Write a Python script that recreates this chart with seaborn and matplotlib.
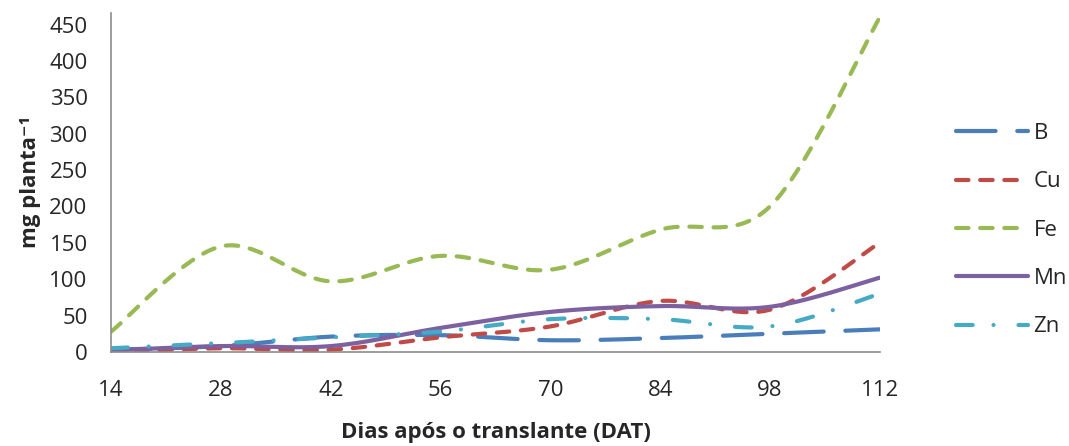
import numpy as np
import pandas as pd
import seaborn as sns
import matplotlib.pyplot as plt

dias = [14, 28, 42, 56, 70, 84, 98, 112]
b = [3, 8, 21, 23, 16, 19, 25, 31]
cu = [0, 5, 3, 20, 35, 70, 58, 150]
fe = [28, 145, 97, 132, 113, 168, 200, 460]
mn = [2, 8, 8, 33, 55, 63, 62, 102]
zn = [5, 12, 20, 28, 45, 45, 35, 80]

series = ["B", "Cu", "Fe", "Mn", "Zn"]
valores = [b, cu, fe, mn, zn]
cores = ["#4A7EBB", "#BE4B48", "#98B954", "#7D60A0", "#46AAC5"]
tracos = [(9.5, 5.2), (3.0, 2.8), (3.0, 2.8), None, (4.0, 5.0, 0.01, 6.0)]


def suaviza(x, y, n=40):
  # catmull-rom, parecido com a linha suavizada do Excel
  x = np.asarray(x, float)
  y = np.asarray(y, float)
  px = np.concatenate([[x[0]], x, [x[-1]]])
  py = np.concatenate([[y[0]], y, [y[-1]]])
  xs, ys = [], []
  for i in range(1, len(px) - 2):
    t = np.linspace(0, 1, n, endpoint=False)
    for p, out in ((px, xs), (py, ys)):
      p0, p1, p2, p3 = p[i - 1], p[i], p[i + 1], p[i + 2]
      out.extend(0.5 * ((2 * p1) + (-p0 + p2) * t
                        + (2 * p0 - 5 * p1 + 4 * p2 - p3) * t ** 2
                        + (-p0 + 3 * p1 - 3 * p2 + p3) * t ** 3))
  xs.append(x[-1])
  ys.append(y[-1])
  return np.array(xs), np.array(ys)


sns.set_theme(style="white")
plt.rcParams["font.family"] = ["Open Sans", "DejaVu Sans"]

fig = plt.figure(figsize=(10.69, 4.46), dpi=100)
ax = fig.add_axes([0.104, 0.211, 0.719, 0.760])

for nome, v, cor, tr in zip(series, valores, cores, tracos):
  xs, ys = suaviza(dias, v)
  df = pd.DataFrame({"dia": xs, "valor": ys})
  sns.lineplot(data=df, x="dia", y="valor", ax=ax, color=cor, linewidth=3,
               label=nome, sort=False, estimator=None)
  ln = ax.lines[-1]
  ln.set_solid_capstyle("round")
  ln.set_dash_capstyle("round")
  if tr is not None:
    ln.set_dashes(tr)

ax.set_xlim(14, 112)
ax.set_ylim(0, 466)
ax.set_xticks(dias)
ax.set_yticks(range(0, 451, 50))
ax.tick_params(axis="both", labelsize=16, length=0)
ax.tick_params(axis="y", pad=17)
ax.tick_params(axis="x", pad=20)
for s in ["top", "right"]:
  ax.spines[s].set_visible(False)
for s in ["left", "bottom"]:
  ax.spines[s].set_color("#8c8c8c")
  ax.spines[s].set_linewidth(1.2)

ax.set_xlabel("Dias após o translante (DAT)", fontsize=16, fontweight="bold", labelpad=15)
ax.set_ylabel("mg planta\u207b\u00b9", fontsize=16, fontweight="bold", labelpad=6)

h, l = ax.get_legend_handles_labels()
ax.legend_.remove()
fig.legend(h, l, loc="center left", bbox_to_anchor=(0.876, 0.484), frameon=False,
           fontsize=16, handlelength=3.2, labelspacing=1.23, handletextpad=0.27)

fig.savefig("out.png", dpi=100)
